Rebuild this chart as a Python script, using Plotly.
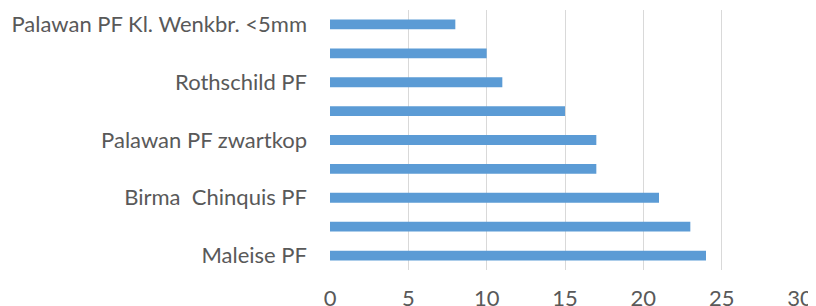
import plotly.graph_objects as go

# bottom to top
labels = ["Maleise PF", "", "Birma  Chinquis PF", "", "Palawan PF zwartkop", "", "Rothschild PF", "", "Palawan PF Kl. Wenkbr. <5mm"]
values = [24, 23, 21, 17, 17, 15, 11, 10, 8]
positions = list(range(len(values)))
x_ticks = [0, 5, 10, 15, 20, 25, 30]

fig = go.Figure(go.Bar(
    x=values, y=positions, orientation="h",
    width=0.34,
    marker=dict(color="#5B9BD5", line=dict(width=0)),
))

# page body has an 8px margin, so margins are offset to place the plot area at x 330..800, y 10..270
fig.update_layout(
    width=816, height=306,
    margin=dict(l=322, r=24, t=2, b=44),
    paper_bgcolor="white", plot_bgcolor="white",
    font=dict(family="Lato", size=22, color="#595959"),
    showlegend=False,
)
fig.update_xaxes(
    range=[0, 30], tickvals=x_ticks, showgrid=True, gridcolor="#D9D9D9", gridwidth=1,
    zeroline=False, showline=False, ticks="", ticklabelstandoff=13, automargin=False,
)
fig.update_yaxes(
    range=[-0.5, 8.5], tickvals=positions, ticktext=labels, showgrid=False,
    zeroline=False, showline=False, ticks="", ticklabelstandoff=22, automargin=False,
)
fig.write_html("out.html")
